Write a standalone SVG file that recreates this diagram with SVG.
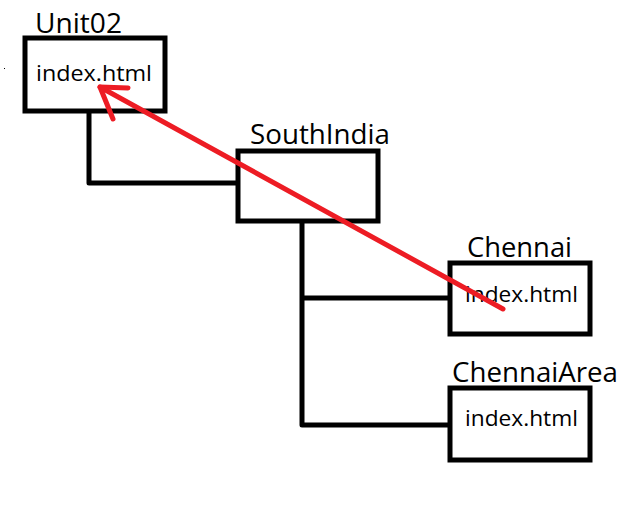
<svg xmlns="http://www.w3.org/2000/svg" width="628" height="506" viewBox="0 0 628 506">
<style>
.box{fill:#fff;stroke:#000;stroke-width:5}
.conn{fill:none;stroke:#000;stroke-width:5;stroke-linejoin:round}
.lbl{font-family:"Open Sans","Liberation Sans",sans-serif;font-size:27px;fill:#000}
.file{font-family:"Open Sans","Liberation Sans",sans-serif;font-size:22px;fill:#000}
.red{fill:none;stroke:#ED1C24;stroke-width:5;stroke-linecap:round;stroke-linejoin:round}
</style>
<rect width="628" height="506" fill="#fff"/>
<g id="connectors">
<path class="conn" d="M89,113 V183 H238"/>
<path class="conn" d="M302,223 V425 H450"/>
<path class="conn" d="M302,298 H450"/>
</g>
<g id="unit02">
<rect class="box" x="25" y="38" width="140" height="73"/>
<text class="lbl" x="35" y="33" textLength="87" lengthAdjust="spacingAndGlyphs">Unit02</text>
<text class="file" x="36" y="81" textLength="116" lengthAdjust="spacingAndGlyphs">index.html</text>
</g>
<g id="southindia">
<rect class="box" x="238" y="151" width="140" height="70"/>
<text class="lbl" x="250" y="144" textLength="140" lengthAdjust="spacingAndGlyphs">SouthIndia</text>
</g>
<g id="chennai">
<rect class="box" x="450" y="263" width="140" height="71"/>
<text class="lbl" x="467" y="257" textLength="105" lengthAdjust="spacingAndGlyphs">Chennai</text>
<text class="file" x="465" y="302" textLength="113" lengthAdjust="spacingAndGlyphs">index.html</text>
</g>
<g id="chennaiarea">
<rect class="box" x="450" y="388" width="140" height="72"/>
<text class="lbl" x="452" y="382" textLength="166" lengthAdjust="spacingAndGlyphs">ChennaiArea</text>
<text class="file" x="465" y="426" textLength="113" lengthAdjust="spacingAndGlyphs">index.html</text>
</g>
<g id="arrow">
<path class="red" d="M503,309 L100,87"/>
<path class="red" d="M128,88 L100,87 L113,119"/>
</g>
<rect x="4" y="68" width="1" height="1" fill="#000"/>
</svg>
